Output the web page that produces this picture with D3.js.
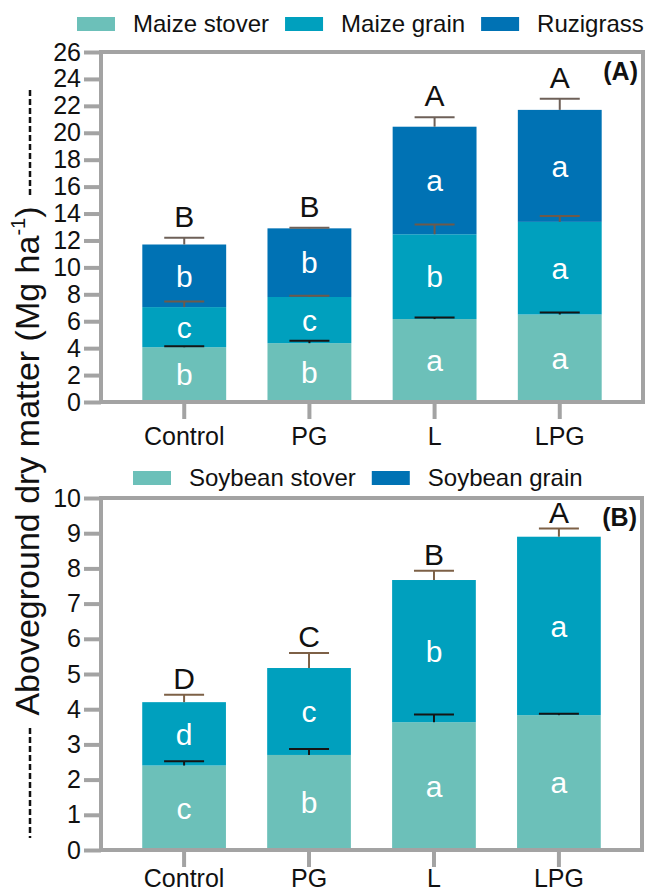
<!DOCTYPE html>
<html lang="en">
  <head>
    <meta charset="UTF-8" />
    <title>Aboveground dry matter</title>
    <style>
      body { margin: 0; background: #fff; }
      text { font-family: "Liberation Sans", Arial, sans-serif; }
    </style>
  </head>
  <body>
    <svg id="chart"></svg>
  </body>
</html>

<script src="https://cdnjs.cloudflare.com/ajax/libs/d3/7.8.5/d3.min.js"></script>

<script>
  // treatments on the x axis
  const treatments = ["Control", "PG", "L", "LPG"];

  // (A) maize + ruzigrass, Mg ha-1 per component
  const maizeStover = [4.07, 4.37, 6.16, 6.5];
  const maizeGrain = [2.98, 3.43, 6.3, 6.88];
  const ruzigrass = [4.65, 5.1, 7.99, 8.32];
  const maizeStoverErr = [0.07, 0.18, 0.12, 0.15];
  const maizeGrainErr = [0.42, 0.1, 0.73, 0.43];
  const ruzigrassErr = [0.5, 0.05, 0.7, 0.82];
  const maizeStoverSig = ["b", "b", "a", "a"];
  const maizeGrainSig = ["c", "c", "b", "a"];
  const ruzigrassSig = ["b", "b", "a", "a"];
  const totalSigA = ["B", "B", "A", "A"];
  const ticksA = d3.range(0, 27, 2);

  // (B) soybean
  const soyStover = [2.4, 2.7, 3.63, 3.83];
  const soyGrain = [1.8, 2.47, 4.04, 5.07];
  const soyStoverErr = [0.12, 0.17, 0.22, 0.04];
  const soyGrainErr = [0.21, 0.43, 0.26, 0.23];
  const soyStoverSig = ["c", "b", "a", "a"];
  const soyGrainSig = ["d", "c", "b", "a"];
  const totalSigB = ["D", "C", "B", "A"];
  const ticksB = d3.range(0, 11, 1);

  const colStover = "#6cc0b9",
    colGrain = "#00a0be",
    colRuzi = "#0072b4",
    frameCol = "#a3a3a3";

  const W = 646,
    H = 894;
  const svg = d3.select("#chart").attr("width", W).attr("height", H);

  function panel(opt) {
    const { top, bottom, left, right, max, ticks, layers, totalSig, tag, sigGap, labelPad } = opt;

    const x = d3
      .scaleBand()
      .domain(treatments)
      .range([left, right])
      .paddingInner(0.33)
      .paddingOuter(0.33);
    const y = d3.scaleLinear().domain([0, max]).range([bottom, top]);

    const g = svg.append("g");

    // build stack table from the arrays
    const rows = treatments.map((t, i) => {
      const r = { t };
      layers.forEach((l) => (r[l.key] = l.values[i]));
      return r;
    });
    const stacked = d3.stack().keys(layers.map((l) => l.key))(rows);

    stacked.forEach((s, li) => {
      const l = layers[li];
      g.append("g")
        .selectAll("rect")
        .data(s)
        .join("rect")
        .attr("x", (d) => x(d.data.t))
        .attr("width", x.bandwidth())
        .attr("y", (d) => y(d[1]))
        .attr("height", (d) => y(d[0]) - y(d[1]))
        .attr("fill", l.color);
    });

    // error bars on top of every segment
    stacked.forEach((s, li) => {
      const l = layers[li];
      const eg = g.append("g").attr("stroke", l.errColor).attr("stroke-width", 2);
      s.forEach((d, i) => {
        const cx = x(d.data.t) + x.bandwidth() / 2;
        const yt = y(d[1] + l.err[i]);
        eg.append("line").attr("x1", cx).attr("x2", cx).attr("y1", y(d[1])).attr("y2", yt);
        eg.append("line").attr("x1", cx - 20).attr("x2", cx + 20).attr("y1", yt).attr("y2", yt);
      });
    });

    // lowercase letters inside segments
    stacked.forEach((s, li) => {
      const l = layers[li];
      g.append("g")
        .selectAll("text")
        .data(s)
        .join("text")
        .attr("x", (d) => x(d.data.t) + x.bandwidth() / 2)
        .attr("y", (d) => y((d[0] + d[1]) / 2))
        .attr("dy", "0.36em")
        .attr("text-anchor", "middle")
        .attr("fill", "#fff")
        .attr("font-size", 30)
        .text((d, i) => l.sig[i]);
    });

    // uppercase letters above totals
    const last = stacked[stacked.length - 1];
    const lastL = layers[layers.length - 1];
    g.append("g")
      .selectAll("text")
      .data(last)
      .join("text")
      .attr("x", (d) => x(d.data.t) + x.bandwidth() / 2)
      .attr("y", (d, i) => y(d[1] + lastL.err[i]) - sigGap)
      .attr("text-anchor", "middle")
      .attr("font-size", 30)
      .attr("fill", "#111")
      .text((d, i) => totalSig[i]);

    // frame
    g.append("rect")
      .attr("x", left)
      .attr("y", top)
      .attr("width", right - left)
      .attr("height", bottom - top)
      .attr("fill", "none")
      .attr("stroke", frameCol)
      .attr("stroke-width", 4);

    // y axis
    const ya = g
      .append("g")
      .attr("transform", `translate(${left},0)`)
      .call(d3.axisLeft(y).tickValues(ticks).tickSize(17).tickPadding(3));
    ya.select(".domain").remove();
    ya.selectAll("line").attr("stroke", frameCol).attr("stroke-width", 4);
    ya.selectAll("text").attr("font-size", 25).attr("fill", "#111").attr("font-family", null);

    // x axis
    const xa = g
      .append("g")
      .attr("transform", `translate(0,${bottom})`)
      .call(d3.axisBottom(x).tickSize(17).tickPadding(labelPad));
    xa.select(".domain").remove();
    xa.selectAll("line").attr("stroke", frameCol).attr("stroke-width", 4);
    xa.selectAll("text").attr("font-size", 25).attr("fill", "#111").attr("font-family", null);

    // panel tag
    g.append("text")
      .attr("x", right - 5)
      .attr("y", top + 28)
      .attr("text-anchor", "end")
      .attr("font-size", 25)
      .attr("font-weight", "bold")
      .attr("fill", "#111")
      .text(tag);
  }

  function legend(items, x0, y0) {
    const lg = svg.append("g");
    let cx = x0;
    items.forEach((it) => {
      lg.append("rect").attr("x", cx).attr("y", y0 - 7).attr("width", 38).attr("height", 14).attr("fill", it.color);
      const t = lg
        .append("text")
        .attr("x", cx + 56)
        .attr("y", y0)
        .attr("dy", "0.35em")
        .attr("font-size", 24)
        .attr("fill", "#111")
        .text(it.name);
      cx = cx + 56 + t.node().getComputedTextLength() + 16;
    });
  }

  panel({
    top: 52,
    bottom: 402,
    left: 101,
    right: 643,
    max: 26,
    ticks: ticksA,
    totalSig: totalSigA,
    tag: "(A)",
    sigGap: 11,
    labelPad: 8,
    layers: [
      { key: "stover", values: maizeStover, err: maizeStoverErr, sig: maizeStoverSig, color: colStover, errColor: "#151515" },
      { key: "grain", values: maizeGrain, err: maizeGrainErr, sig: maizeGrainSig, color: colGrain, errColor: "#6e5a4a" },
      { key: "ruzi", values: ruzigrass, err: ruzigrassErr, sig: ruzigrassSig, color: colRuzi, errColor: "#6e6058" },
    ],
  });

  panel({
    top: 498,
    bottom: 850,
    left: 101,
    right: 642,
    max: 10,
    ticks: ticksB,
    totalSig: totalSigB,
    tag: "(B)",
    sigGap: 6,
    labelPad: 2,
    layers: [
      { key: "stover", values: soyStover, err: soyStoverErr, sig: soyStoverSig, color: colStover, errColor: "#151515" },
      { key: "grain", values: soyGrain, err: soyGrainErr, sig: soyGrainSig, color: colGrain, errColor: "#7d6046" },
    ],
  });

  legend(
    [
      { name: "Maize stover", color: colStover },
      { name: "Maize grain", color: colGrain },
      { name: "Ruzigrass", color: colRuzi },
    ],
    77,
    24
  );
  // the reference shows the soybean grain swatch in the darker blue
  legend(
    [
      { name: "Soybean stover", color: colStover },
      { name: "Soybean grain", color: colRuzi },
    ],
    133,
    478
  );

  // shared y title with dashed leaders
  const title = svg
    .append("text")
    .attr("transform", "translate(39,461) rotate(-90)")
    .attr("text-anchor", "middle")
    .attr("font-size", 34)
    .attr("fill", "#111");
  title.append("tspan").text("Aboveground dry matter (Mg ha");
  title.append("tspan").attr("font-size", 20).attr("dy", -14).text("-1");
  title.append("tspan").attr("dy", 14).text(")");

  svg
    .append("g")
    .attr("stroke", "#111")
    .attr("stroke-width", 2.5)
    .attr("stroke-dasharray", "6,3")
    .selectAll("line")
    .data([
      [90, 196],
      [728, 838],
    ])
    .join("line")
    .attr("x1", 30)
    .attr("x2", 30)
    .attr("y1", (d) => d[0])
    .attr("y2", (d) => d[1]);
</script>
